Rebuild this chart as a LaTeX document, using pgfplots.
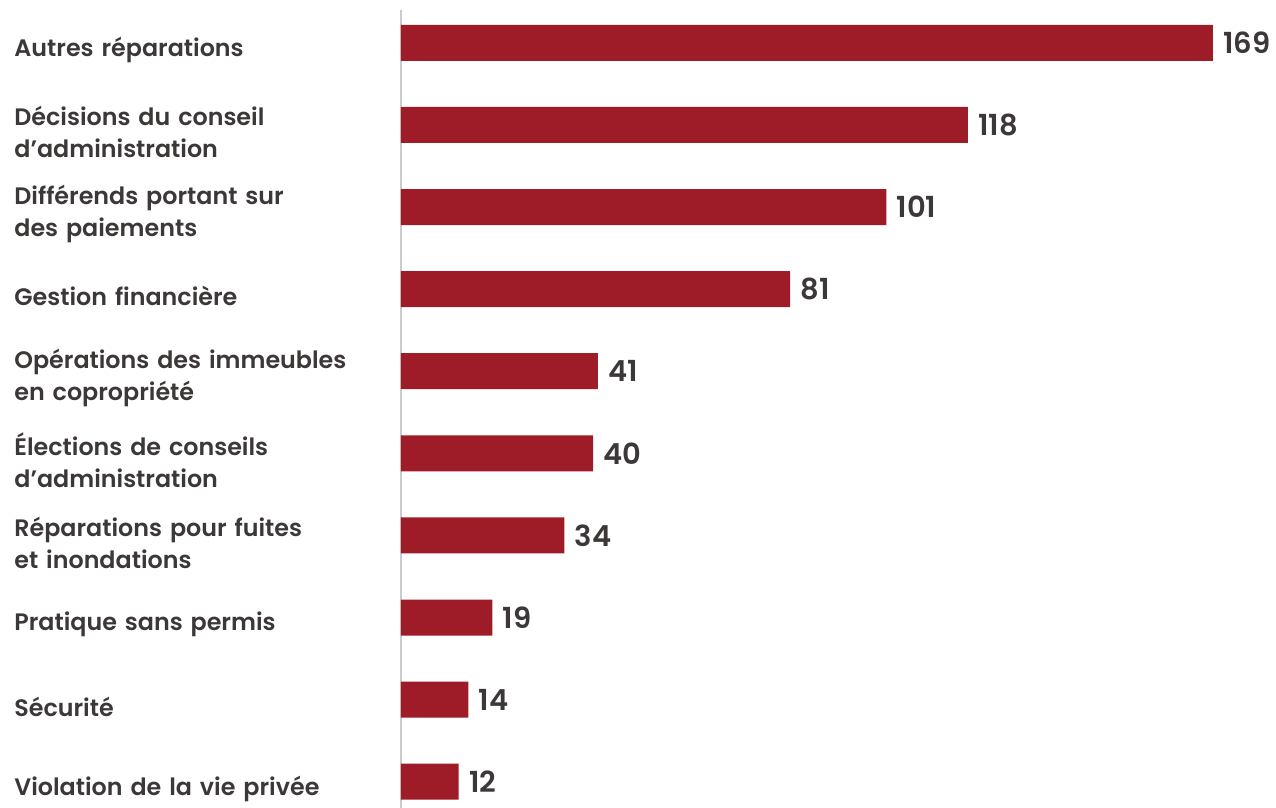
\documentclass[border=0pt]{standalone}
\usepackage{fontspec}
\setmainfont{Poppins}[BoldFont={Poppins SemiBold}]
\usepackage{pgfplots}
\pgfplotsset{compat=1.18}
\definecolor{barred}{HTML}{9E1C28}
\definecolor{txt}{HTML}{3D3838}
\definecolor{axgray}{HTML}{CCCCCC}
\begin{document}
\begin{tikzpicture}
\begin{axis}[
  scale only axis,
  width=406pt, height=399pt,
  xmin=0, xmax=169,
  ymin=-0.40, ymax=9.32,
  y dir=reverse,
  xbar, bar width=18pt,
  axis x line=none,
  axis y line=left,
  axis line style={-, axgray, line width=1pt},
  major tick length=0pt,
  ytick={0,...,9},
  yticklabels={
    {Autres réparations},
    {Décisions du conseil\\d’administration},
    {Différends portant sur\\des paiements},
    {Gestion financière},
    {Opérations des immeubles\\en copropriété},
    {Élections de conseils\\d’administration},
    {Réparations pour fuites\\et inondations},
    {Pratique sans permis},
    {Sécurité},
    {Violation de la vie privée}},
  yticklabel style={anchor=west, align=left, text width=190pt, inner sep=0pt,
    xshift=-193.5pt, yshift=-3.5pt, font=\fontsize{11.9}{16}\selectfont\bfseries, text=txt},
  /pgf/number format/assume math mode=true,
  nodes near coords,
  every node near coord/.append style={font=\fontsize{14.5}{16}\selectfont\bfseries, text=txt, inner xsep=5pt},
  clip=false,
]
\addplot[draw=none, fill=barred] coordinates {
 (169,0) (118,1) (101,2) (81,3) (41,4) (40,5) (34,6) (19,7) (14,8) (12,9)};
\end{axis}
\pgfresetboundingbox
\path[use as bounding box] ([xshift=-200.5pt]current axis.south west) rectangle ([xshift=31.5pt,yshift=5pt]current axis.north east);
\end{tikzpicture}
\end{document}
